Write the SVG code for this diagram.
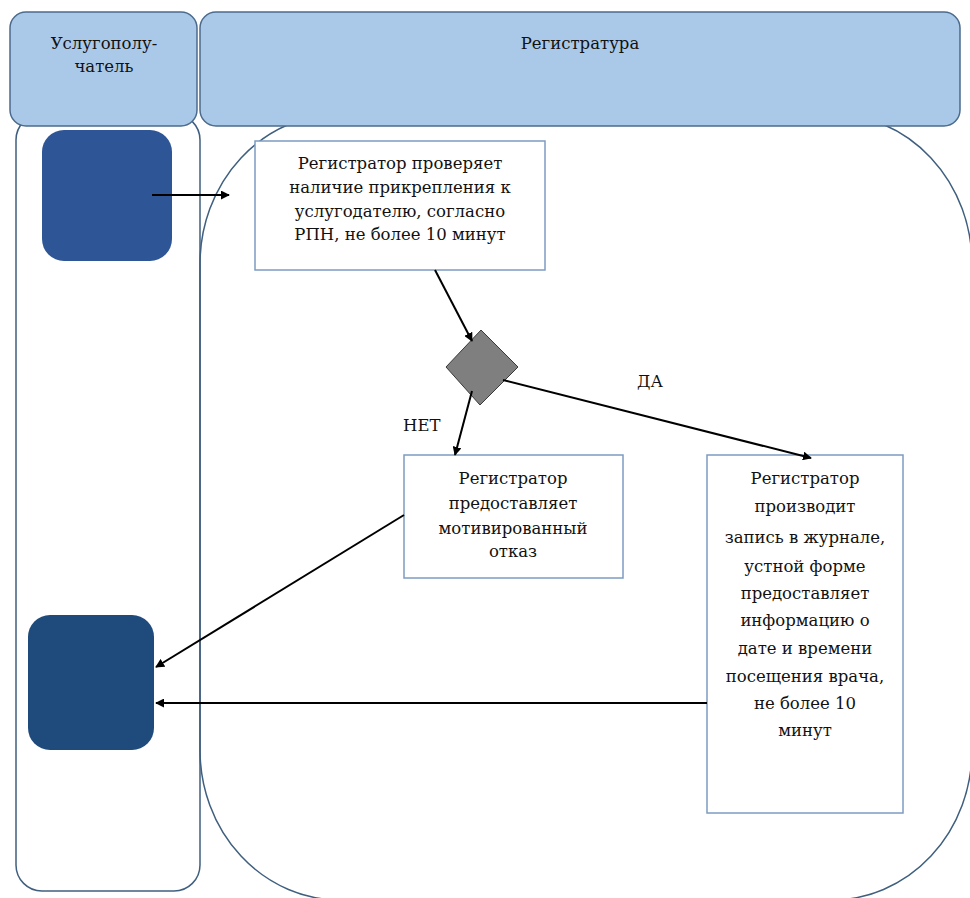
<svg xmlns="http://www.w3.org/2000/svg" width="970" height="898" viewBox="0 0 970 898">
  <defs>
    <marker id="arrow" viewBox="0 0 10 10" refX="9" refY="5" markerWidth="9" markerHeight="9" markerUnits="userSpaceOnUse" orient="auto">
      <path d="M0,0 L10,5 L0,10 z" fill="#000"/>
    </marker>
  </defs>
  <style>
    .hdr { fill: #aac9e9; stroke: #4c6b8c; stroke-width: 1.5; }
    .lane { fill: none; stroke: #3f5f7f; stroke-width: 1.5; }
    .box { fill: #fff; stroke: #7c9cc0; stroke-width: 1.5; }
    .t { font-family: 'DejaVu Serif', 'Liberation Serif', serif; font-size: 16.5px; fill: #111; text-anchor: middle; }
    .lbl { font-family: 'DejaVu Serif', 'Liberation Serif', serif; font-size: 16.5px; fill: #111; }
    .conn { stroke: #000; stroke-width: 2; fill: none; marker-end: url(#arrow); }
  </style>
  <rect width="970" height="898" fill="#fff"/>

  <!-- lane bodies -->
  <g id="lane-bodies">
    <rect class="lane" x="16" y="114" width="184" height="777" rx="26" ry="26"/>
    <rect class="lane" x="200" y="114" width="772" height="786" rx="140" ry="150"/>
  </g>

  <!-- lane headers -->
  <g id="header-client">
    <rect class="hdr" x="10" y="12" width="187" height="114" rx="16" ry="16"/>
    <text class="t" x="104" y="49">Услугополу-</text>
    <text class="t" x="104" y="72">чатель</text>
  </g>
  <g id="header-registry">
    <rect class="hdr" x="200" y="12" width="760" height="114" rx="16" ry="16"/>
    <text class="t" x="580" y="49">Регистратура</text>
  </g>

  <!-- client start / end -->
  <g id="client-start">
    <rect x="42" y="130" width="130" height="131" rx="22" ry="22" fill="#2e5596"/>
  </g>
  <g id="client-end">
    <rect x="28" y="615" width="126" height="135" rx="22" ry="22" fill="#1f4b7c"/>
  </g>

  <!-- process steps -->
  <g id="check">
    <rect class="box" x="255" y="141" width="290" height="129"/>
    <text class="t" x="400" y="169">Регистратор проверяет</text>
    <text class="t" x="400" y="193">наличие прикрепления к</text>
    <text class="t" x="400" y="217">услугодателю, согласно</text>
    <text class="t" x="400" y="240">РПН, не более 10 минут</text>
  </g>

  <g id="decision">
    <polygon points="481,330 518,367 480,405 446,367" fill="#7f7f7f" stroke="#3a3a3a" stroke-width="1"/>
  </g>

  <g id="refusal">
    <rect class="box" x="404" y="455" width="219" height="123"/>
    <text class="t" x="513" y="484">Регистратор</text>
    <text class="t" x="513" y="509">предоставляет</text>
    <text class="t" x="513" y="534">мотивированный</text>
    <text class="t" x="513" y="557">отказ</text>
  </g>

  <g id="record">
    <rect class="box" x="707" y="455" width="196" height="358"/>
    <text class="t" x="805" y="484">Регистратор</text>
    <text class="t" x="805" y="512">производит</text>
    <text class="t" x="805" y="543">запись в журнале,</text>
    <text class="t" x="805" y="572">устной форме</text>
    <text class="t" x="805" y="599">предоставляет</text>
    <text class="t" x="805" y="626">информацию о</text>
    <text class="t" x="805" y="654">дате и времени</text>
    <text class="t" x="805" y="682">посещения врача,</text>
    <text class="t" x="805" y="709">не более 10</text>
    <text class="t" x="805" y="736">минут</text>
  </g>

  <!-- connectors -->
  <g id="connectors">
    <line class="conn" x1="152" y1="195" x2="229" y2="195"/>
    <line class="conn" x1="435" y1="270" x2="472" y2="341"/>
    <line class="conn" x1="472" y1="391" x2="455" y2="455"/>
    <line class="conn" x1="503" y1="380" x2="811" y2="458"/>
    <line class="conn" x1="404" y1="515" x2="156" y2="667"/>
    <line class="conn" x1="707" y1="703" x2="156" y2="703"/>
    <text class="lbl" x="403" y="431">НЕТ</text>
    <text class="lbl" x="637" y="387">ДА</text>
  </g>
</svg>
